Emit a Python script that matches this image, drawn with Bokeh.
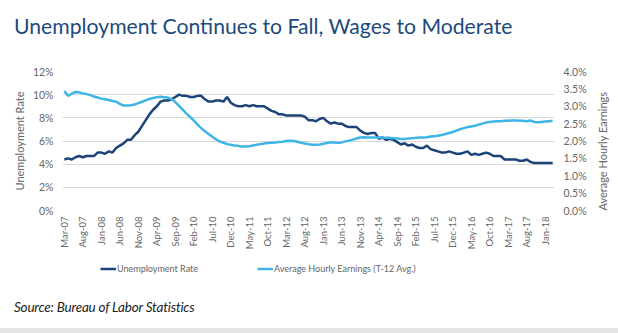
import pandas as pd
from bokeh.plotting import figure
from bokeh.layouts import column
from bokeh.models import (Range1d, LinearAxis, FixedTicker, PrintfTickFormatter,
                          Legend, LegendItem, Div, ColumnDataSource)
from bokeh.embed import file_html
from bokeh.resources import INLINE
import math

# ---- data -------------------------------------------------------------
months = list(pd.date_range("2007-03-01", periods=133, freq="MS").strftime("%b-%y"))

unemployment_rate = [
    4.4, 4.5, 4.4, 4.6, 4.7, 4.6, 4.7, 4.7, 4.7, 5.0,
    5.0, 4.9, 5.1, 5.0, 5.4, 5.6, 5.8, 6.1, 6.1, 6.5, 6.8, 7.3,
    7.8, 8.3, 8.7, 9.0, 9.4, 9.5, 9.5, 9.6, 9.8, 10.0, 9.9, 9.9,
    9.8, 9.8, 9.9, 9.9, 9.6, 9.4, 9.4, 9.5, 9.5, 9.4, 9.8, 9.3,
    9.1, 9.0, 9.0, 9.1, 9.0, 9.1, 9.0, 9.0, 9.0, 8.8, 8.6, 8.5,
    8.3, 8.3, 8.2, 8.2, 8.2, 8.2, 8.2, 8.1, 7.8, 7.8, 7.7, 7.9,
    8.0, 7.7, 7.5, 7.6, 7.5, 7.5, 7.3, 7.2, 7.2, 7.2, 6.9, 6.7,
    6.6, 6.7, 6.7, 6.2, 6.3, 6.1, 6.2, 6.1, 5.9, 5.7, 5.8, 5.6,
    5.7, 5.5, 5.4, 5.4, 5.6, 5.3, 5.2, 5.1, 5.0, 5.0, 5.1, 5.0,
    4.9, 4.9, 5.0, 5.1, 4.8, 4.9, 4.8, 4.9, 5.0, 4.9, 4.7, 4.7,
    4.7, 4.4, 4.4, 4.4, 4.4, 4.3, 4.3, 4.4, 4.2, 4.1, 4.1, 4.1,
    4.1, 4.1, 4.1,
]

avg_hourly_earnings = [
    3.44, 3.30, 3.36, 3.41, 3.40, 3.37, 3.35, 3.32, 3.28, 3.25,
    3.22, 3.20, 3.18, 3.15, 3.13, 3.07, 3.02, 3.02, 3.03, 3.05,
    3.09, 3.13, 3.17, 3.21, 3.24, 3.26, 3.27, 3.26, 3.25, 3.20,
    3.12, 3.01, 2.90, 2.79, 2.69, 2.59, 2.47, 2.37, 2.28, 2.20,
    2.12, 2.05, 1.99, 1.95, 1.91, 1.89, 1.87, 1.86, 1.84, 1.84,
    1.85, 1.87, 1.89, 1.91, 1.93, 1.94, 1.95, 1.96, 1.97, 1.98,
    2.00, 2.01, 2.00, 1.98, 1.95, 1.93, 1.91, 1.89, 1.89, 1.90,
    1.92, 1.94, 1.96, 1.96, 1.95, 1.96, 1.99, 2.01, 2.04, 2.07,
    2.10, 2.11, 2.10, 2.10, 2.10, 2.10, 2.10, 2.09, 2.09, 2.08,
    2.07, 2.06, 2.06, 2.07, 2.08, 2.09, 2.10, 2.10, 2.11, 2.13,
    2.14, 2.15, 2.17, 2.20, 2.23, 2.26, 2.30, 2.34, 2.37, 2.40,
    2.42, 2.44, 2.47, 2.50, 2.53, 2.55, 2.56, 2.57, 2.57, 2.58,
    2.58, 2.59, 2.59, 2.58, 2.58, 2.57, 2.59, 2.55, 2.54, 2.55,
    2.56, 2.57, 2.58,
]

left_ticks = [0, 2, 4, 6, 8, 10, 12]
right_ticks = [0.0, 0.5, 1.0, 1.5, 2.0, 2.5, 3.0, 3.5, 4.0]

series_names = ["Unemployment Rate", "Average Hourly Earnings (T-12 Avg.)"]
title_text = "Unemployment Continues to Fall, Wages to Moderate"
source_text = "Source: Bureau of Labor Statistics"

# ---- styling ----------------------------------------------------------
DARK = "#1c4478"
LIGHT = "#3db5e6"
GREY = "#666666"
GRID = "#d9d9d9"
FONT = "Lato"

TITLE_H = 46
FIG_H = 210
LEG_H = 24
SOURCE_H = 333 - TITLE_H - FIG_H - LEG_H

title_div = Div(
    text=(f'<div style="font-family: Lato; font-size: 21.2px; line-height: 1.2; '
          f'color: #1d4a7c; padding: 14px 0 0 14px; white-space: nowrap;">{title_text}</div>'),
    width=618, height=TITLE_H, margin=0)

source_div = Div(
    text=(f'<div style="height: {SOURCE_H - 5}px; box-sizing: border-box; font-family: Lato; '
          f'font-size: 13.5px; font-style: italic; line-height: 1.2; letter-spacing: -0.2px; '
          f'color: #222222; padding: 19px 0 0 14px; white-space: nowrap;">{source_text}</div>'
          f'<div style="height: 5px; width: 618px; background: #e4e4e4;"></div>'),
    width=618, height=SOURCE_H, margin=0)

src = ColumnDataSource(dict(x=list(range(len(months))), month=months,
                            ur=unemployment_rate, ahe=avg_hourly_earnings))

# ---- main chart -------------------------------------------------------
p = figure(width=618, height=FIG_H, output_backend="svg", toolbar_location=None,
           x_range=Range1d(-0.5, len(months) - 0.5), y_range=Range1d(0, 12),
           min_border_left=62, min_border_right=63, min_border_top=71 - TITLE_H,
           min_border_bottom=FIG_H - (210 - TITLE_H), margin=0)
p.outline_line_color = None
p.background_fill_color = "white"
p.border_fill_color = "white"

p.extra_y_ranges = {"ahe": Range1d(0, 4)}

r1 = p.line("x", "ur", source=src, color=DARK, line_width=2.5)
r2 = p.line("x", "ahe", source=src, color=LIGHT, line_width=2.5, y_range_name="ahe")

# x axis
xa = p.xaxis[0]
tick_idx = list(range(0, len(months), 5))
xa.ticker = FixedTicker(ticks=tick_idx)
xa.major_label_overrides = {i: months[i] for i in tick_idx}
xa.major_label_orientation = math.pi / 2
xa.axis_line_color = None
xa.major_tick_line_color = None
xa.minor_tick_line_color = None
xa.major_tick_in = 0
xa.major_tick_out = 0
xa.major_label_standoff = 6
xa.major_label_text_font = FONT
xa.major_label_text_font_size = "9.5px"
xa.major_label_text_color = GREY

# left axis
ya = p.yaxis[0]
ya.ticker = FixedTicker(ticks=left_ticks)
ya.formatter = PrintfTickFormatter(format="%d%%")
ya.axis_line_color = None
ya.major_tick_line_color = None
ya.minor_tick_line_color = None
ya.major_tick_in = 0
ya.major_tick_out = 0
ya.major_label_standoff = 9
ya.major_label_text_font = FONT
ya.major_label_text_font_size = "10.5px"
ya.major_label_text_color = GREY
ya.axis_label = "Unemployment Rate"
ya.axis_label_text_font = FONT
ya.axis_label_text_font_size = "11px"
ya.axis_label_text_font_style = "normal"
ya.axis_label_text_color = GREY
ya.axis_label_standoff = 4

# right axis
ra = LinearAxis(y_range_name="ahe", ticker=FixedTicker(ticks=right_ticks),
                formatter=PrintfTickFormatter(format="%.1f%%"))
ra.axis_line_color = None
ra.major_tick_line_color = None
ra.minor_tick_line_color = None
ra.major_tick_in = 0
ra.major_tick_out = 0
ra.major_label_standoff = 9
ra.major_label_text_font = FONT
ra.major_label_text_font_size = "10.5px"
ra.major_label_text_color = GREY
ra.axis_label = "Average Hourly Earnings"
ra.axis_label_orientation = math.pi / 2
ra.axis_label_align = "start"
ra.axis_label_text_font = FONT
ra.axis_label_text_font_size = "11px"
ra.axis_label_text_font_style = "normal"
ra.axis_label_text_color = GREY
ra.axis_label_standoff = 13
p.add_layout(ra, "right")

p.xgrid.grid_line_color = None
p.ygrid.grid_line_color = GRID
p.ygrid.grid_line_width = 1

# ---- legend strip (the series are drawn outside its visible range) ------
lg = figure(width=618, height=LEG_H, output_backend="svg", toolbar_location=None,
            x_range=Range1d(0, 1), y_range=Range1d(100, 101),
            min_border=0, margin=0)
lg.axis.visible = False
lg.grid.visible = False
lg.outline_line_color = None
lg.background_fill_color = "white"
lg.border_fill_color = "white"
k1 = lg.line("x", "ur", source=src, color=DARK, line_width=2.5)
k2 = lg.line("x", "ahe", source=src, color=LIGHT, line_width=2.5)
legend = Legend(items=[LegendItem(label=series_names[0], renderers=[k1]),
                       LegendItem(label=series_names[1], renderers=[k2])],
                orientation="horizontal", location=(38, 6),
                padding=0, margin=0, spacing=59, glyph_width=16, glyph_height=11,
                label_standoff=1, label_height=11,
                label_text_font=FONT, label_text_font_size="9px",
                label_text_color=GREY, border_line_color=None,
                background_fill_alpha=0)
lg.add_layout(legend, "center")

layout = column(title_div, p, lg, source_div, width=618, height=333, margin=0, spacing=0)

open("out.html", "w").write(file_html(layout, INLINE))
